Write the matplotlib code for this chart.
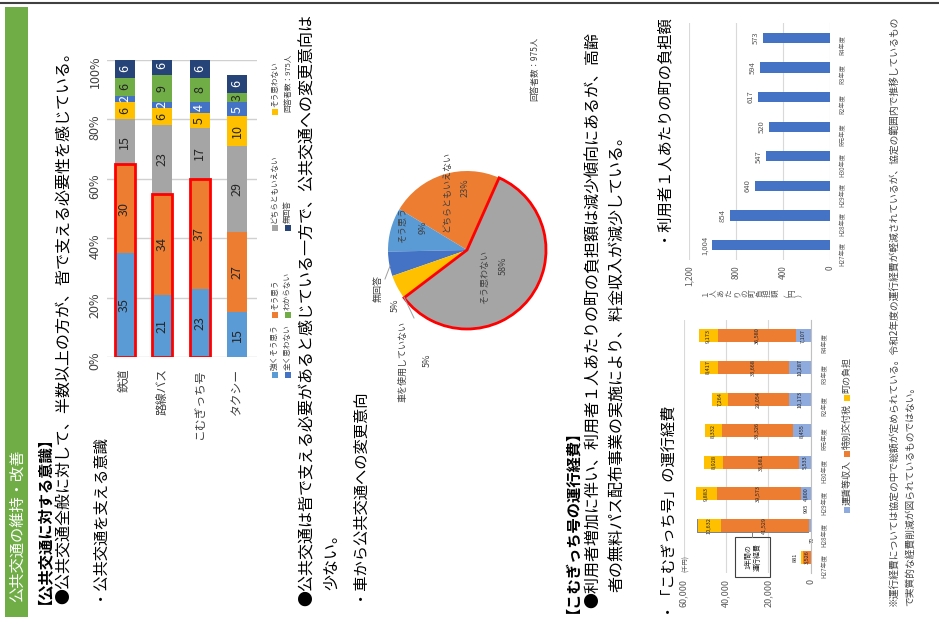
import matplotlib
matplotlib.use("Agg")
import matplotlib.pyplot as plt
from matplotlib.patches import Rectangle
import numpy as np

plt.rcParams['font.family'] = ['Noto Sans CJK JP', 'DejaVu Sans']

# 公共交通を支える意識（％）
modes = ['鉄道', '路線バス', 'こむぎっち号', 'タクシー']
answers = ['強くそう思う', 'そう思う', 'どちらともいえない', 'そう思わない',
           '全く思わない', 'わからない', '無回答']
strong_yes = [35, 21, 23, 15]
yes = [30, 34, 37, 27]
neutral = [15, 23, 17, 29]
no = [6, 6, 5, 10]
strong_no = [2, 2, 4, 5]
unknown = [6, 9, 8, 3]
no_answer = [6, 6, 6, 6]

# 車から公共交通への変更意向（％）
shift_labels = ['どちらともいえない', 'そう思う', '無回答', '車を使用していない', 'そう思わない']
shift_pct = [23, 9, 5, 5, 58]

# こむぎっち号の運行経費（千円）
years = ['H27年度', 'H28年度', 'H29年度', 'H30年度', 'R元年度', 'R2年度', 'R3年度', 'R4年度']
fare_income = [70, 995, 4800, 5533, 8455, 10173, 10287, 7107]
special_grant = [3526, 41529, 39573, 35681, 33326, 29054, 33668, 36580]
town_share = [881, 10632, 9883, 8928, 8332, 7264, 8417, 9173]

# 利用者１人あたりの町の負担額（円）
per_user = [1004, 854, 640, 547, 520, 617, 594, 573]

W, H = 939, 617
fig = plt.figure(figsize=(W / 100, H / 100), dpi=100)


def px_axes(x0, y0, x1, y1):
    return fig.add_axes([x0 / W, 1 - y1 / H, (x1 - x0) / W, (y1 - y0) / H])


# 文字や枠は一番上の透明な軸に描く
page = px_axes(0, 0, W, H)
page.set_xlim(0, W)
page.set_ylim(H, 0)
page.axis('off')
page.set_zorder(10)
page.patch.set_alpha(0)


def vtext(x, y, s, size=11, **kw):
    # 下から上へ読む文字列（y が書き出し位置）
    kw.setdefault('color', 'black')
    page.text(x, y, s, rotation=90, ha='center', va='bottom', fontsize=size, **kw)


def ctext(x, y, s, size=6, **kw):
    kw.setdefault('color', '#404040')
    page.text(x, y, s, rotation=90, ha='center', va='center', fontsize=size, **kw)


# 枠と見出し帯
page.plot([0, W], [3, 3], color='#404040', lw=1.5)
page.add_patch(Rectangle((5, 7), 23, H - 7, color='#70AD47', lw=0))
vtext(17, 602, '公共交通の維持・改善', 11, color='white')

vtext(36, 604, '【公共交通に対する意識】', 11, weight='bold')
vtext(64, 604, '●公共交通全般に対して、半数以上の方が、皆で支える必要性を感じている。', 11.5)
vtext(96, 600, '・公共交通を支える意識', 11)
vtext(307, 606, '●公共交通は皆で支える必要があると感じている一方で、公共交通への変更意向は', 11.5)
vtext(332, 590, '少ない。', 11.5)
vtext(356, 600, '・車から公共交通への変更意向', 11)
vtext(564, 613, '【こむぎっち号の運行経費】', 11, weight='bold')
vtext(593, 608, '●利用者増加に伴い、利用者１人あたりの町の負担額は減少傾向にあるが、高齢', 11.5)
vtext(618, 592, '者の無料パス配布事業の実施により、料金収入が減少している。', 11.5)
vtext(663, 613, '・「こむぎっち号」の運行経費', 11)
vtext(660, 241, '・利用者１人あたりの町の負担額', 11)
vtext(893, 606, '※運行経費については協定の中で総額が定められている。令和2年度の運行経費が軽減されているが、協定の範囲内で推移しているもの',
      7, color='#404040')
vtext(910, 606, 'で実質的な経費削減が図られているものではない。', 7, color='#404040')

# ---- 帯グラフ（公共交通を支える意識）----
colors = ['#5B9BD5', '#ED7D31', '#A5A5A5', '#FFC000', '#4472C4', '#70AD47', '#264478']
txt_col = ['#262626'] * 4 + ['white', '#262626', 'white']
series = [strong_yes, yes, neutral, no, strong_no, unknown, no_answer]

ax1 = px_axes(107, 60, 257, 357)
x = np.arange(len(modes))
bottom = np.zeros(len(modes))
for vals, c, tc in zip(series, colors, txt_col):
    vals = np.array(vals, dtype=float)
    ax1.bar(x, vals, 0.53, bottom=bottom, color=c, zorder=2)
    for xi, b, v in zip(x, bottom, vals):
        ax1.text(xi, b + v / 2, f'{v:.0f}', rotation=90, ha='center', va='center',
                 fontsize=9, color=tc, zorder=4)
    bottom += vals
for i in range(3):
    ax1.add_patch(Rectangle((i - 0.265, 0), 0.53, strong_yes[i] + yes[i], fill=False,
                            ec='#FF0000', lw=2, zorder=3))
ax1.set_xlim(-0.47, 3.53)
ax1.set_ylim(0, 100)
ax1.set_yticks(range(0, 101, 20), [f'{v}%' for v in range(0, 101, 20)])
ax1.set_xticks(x, modes)
ax1.tick_params(axis='y', labelrotation=90, length=0, pad=4, labelsize=9, labelcolor='#404040')
ax1.tick_params(axis='x', labelrotation=90, length=0, pad=8, labelsize=8.5, labelcolor='#404040')
ax1.yaxis.grid(True, color='#d0d0d0', lw=1, zorder=0)
for s in ax1.spines.values():
    s.set_visible(False)

# 凡例
leg = [(275, 375, 0), (288, 375, 4), (275, 315, 1), (288, 315, 5),
       (275, 228, 2), (288, 228, 6), (275, 112, 3)]
for lx, ly, k in leg:
    page.add_patch(Rectangle((lx - 3, ly - 3), 6, 6, color=colors[k], lw=0))
    vtext(lx, ly - 5, answers[k], 5.5, color='#404040')
vtext(288, 112, '回答者数：975人', 5.5, color='#404040')

# ---- 円グラフ（車から公共交通への変更意向）----
axp = px_axes(467 - 79, 250 - 79, 467 + 79, 250 + 79)
wedges, _ = axp.pie(shift_pct, colors=['#ED7D31', '#5B9BD5', '#4472C4', '#FFC000', '#A5A5A5'],
                    startangle=66, counterclock=True, radius=1,
                    wedgeprops=dict(linewidth=0))
wedges[-1].set_edgecolor('#FF0000')
wedges[-1].set_linewidth(2)
for w in wedges:
    w.set_clip_on(False)
axp.set_xlim(-1, 1)
axp.set_ylim(-1, 1)

ctext(447, 191, shift_labels[0], 6.5)
ctext(465, 188, f'{shift_pct[0]}%', 6.5)
ctext(403, 225, shift_labels[1], 6.5)
ctext(423, 227, f'{shift_pct[1]}%', 6.5)
ctext(485, 277, shift_labels[4], 6.5)
ctext(503, 266, f'{shift_pct[4]}%', 6.5)
ctext(378, 288, shift_labels[2], 6.5)
ctext(395, 305, f'{shift_pct[2]}%', 6.5)
ctext(403, 361, shift_labels[3], 6.5)
ctext(427, 360, f'{shift_pct[3]}%', 6.5)
page.plot([390, 385], [266, 279], color='#a0a0a0', lw=0.7)
page.plot([404, 414], [297, 318], color='#a0a0a0', lw=0.7)
vtext(535, 101, '回答者数：975人', 6, color='#404040')

# ---- 運行経費（積み上げ横棒）----
ax2 = px_axes(683.5, 320, 811, 573)
yy = np.arange(len(years))
left = np.zeros(len(years))
cost_cols = ['#8FAADC', '#ED7D31', '#FFC000']
for vals, c in zip([fare_income, special_grant, town_share], cost_cols):
    vals = np.array(vals, dtype=float)
    ax2.barh(yy, vals, 0.41, left=left, color=c, zorder=2)
    for yi, l, v in zip(yy, left, vals):
        if v >= 3000:
            ax2.text(l + v / 2, yi, f'{v:,.0f}', rotation=90, ha='center', va='center',
                     fontsize=4, color='#262626', zorder=4)
    left += vals
ax2.text(fare_income[1], 1.55, f'{fare_income[1]:,}', rotation=90, ha='right', va='center',
         fontsize=4, color='#262626')
ax2.text(-600, 0.55, f'{fare_income[0]:,}', rotation=90, ha='center', va='center',
         fontsize=4, color='#262626')
ax2.text(left[0] + 3000, 0, f'{town_share[0]:,}', rotation=90, ha='center', va='center',
         fontsize=4, color='#262626')
ax2.set_xlim(60000, 0)
ax2.set_ylim(-0.5, 7.5)
ax2.set_xticks([0, 20000, 40000, 60000], ['0', '20,000', '40,000', '60,000'])
ax2.set_yticks(yy, years)
ax2.yaxis.tick_right()
ax2.tick_params(axis='x', labelrotation=90, length=0, pad=4, labelsize=6.5, labelcolor='#595959')
ax2.tick_params(axis='y', labelrotation=90, length=0, pad=7, labelsize=4.5, labelcolor='#595959')
ax2.xaxis.grid(True, color='#d9d9d9', lw=0.8, zorder=0)
for s in ax2.spines.values():
    s.set_visible(False)
page.plot([811, 811], [320, 573], color='#c0c0c0', lw=0.8)
ctext(686, 563, '(千円)', 4.5, color='#595959')

# 1年間の運行経費の括弧
page.plot([697, 697, 808], [519, 532, 532], color='#7f7f7f', lw=0.7)
page.plot([752, 752], [532, 537], color='#7f7f7f', lw=0.7)
page.add_patch(Rectangle((735, 537), 35, 40, fill=False, ec='#404040', lw=0.8))
ctext(748, 557, '1年間の', 5, color='#262626')
ctext(758, 557, '運行経費', 5, color='#262626')

# 凡例
cost_names = ['運賃等収入', '特別交付税', '町の負担']
ly = 510
for name, c in zip(cost_names, cost_cols):
    page.add_patch(Rectangle((844, ly - 3), 6, 6, color=c, lw=0))
    vtext(847, ly - 5, name, 6.5, color='#404040')
    ly -= 56

# ---- 利用者１人あたりの町の負担額 ----
ax3 = px_axes(689, 23.2, 830, 259.8)
ax3.barh(yy, per_user, 0.35, color='#4472C4', zorder=2)
for yi, v in zip(yy, per_user):
    ax3.text(v + 60, yi, f'{v:,}', rotation=90, ha='center', va='center',
             fontsize=5.5, color='#595959')
ax3.set_xlim(1200, 0)
ax3.set_ylim(-0.5, 7.5)
ax3.set_xticks([0, 400, 800, 1200], ['0', '400', '800', '1,200'])
ax3.set_yticks(yy, years)
ax3.yaxis.tick_right()
ax3.tick_params(axis='x', labelrotation=90, length=0, pad=4, labelsize=6, labelcolor='#595959')
ax3.tick_params(axis='y', labelrotation=90, length=0, pad=6, labelsize=4.5, labelcolor='#595959')
ax3.xaxis.grid(True, color='#d9d9d9', lw=0.8, zorder=0)
for s in ax3.spines.values():
    s.set_visible(False)
for i, ch in enumerate('１人あたりの町負担額（円）'):
    page.text(705 + i * 7.9, 293, ch, rotation=90, ha='center', va='center',
              fontsize=5.5, color='#595959')

fig.savefig('out.png', dpi=100)
